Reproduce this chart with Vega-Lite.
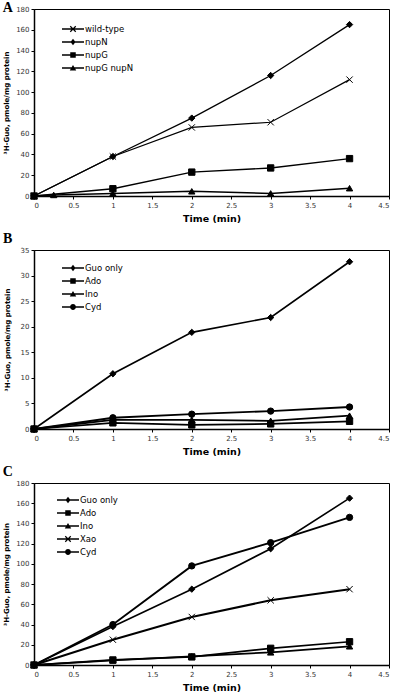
{
  "$schema": "https://vega.github.io/schema/vega-lite/v6.json",
  "background": "white",
  "padding": {"left": 2, "top": 0, "right": 7, "bottom": 0},
  "spacing": 8,
  "config": {
    "view": {"stroke": "black", "strokeWidth": 1},
    "font": "DejaVu Sans",
    "axis": {
      "grid": false,
      "labelFont": "DejaVu Sans",
      "labelFontSize": 7,
      "labelColor": "#333333",
      "labelPadding": 2,
      "tickColor": "black",
      "tickSize": 3,
      "tickWidth": 1,
      "domainColor": "black",
      "domainWidth": 1.5,
      "titleFont": "DejaVu Sans",
      "titleFontWeight": "bold",
      "titleColor": "black"
    },
    "axisX": {"titleFontSize": 9.5, "titlePadding": 5},
    "axisY": {"titleFontSize": 7},
    "legend": {
      "labelFont": "DejaVu Sans",
      "labelFontSize": 8.5,
      "labelColor": "black",
      "labelOffset": 7,
      "padding": 0,
      "rowPadding": 3,
      "symbolSize": 100,
      "symbolStrokeWidth": 0,
      "symbolFillColor": "black",
      "symbolOpacity": 1
    },
    "title": {"font": "Liberation Serif", "fontSize": 14, "fontWeight": "bold", "color": "black", "anchor": "start", "frame": "bounds"}
  },
  "datasets": {
    "A": [
      {"s": "wild-type", "t": 0, "v": 0}, {"s": "wild-type", "t": 1, "v": 38}, {"s": "wild-type", "t": 2, "v": 66}, {"s": "wild-type", "t": 3, "v": 71}, {"s": "wild-type", "t": 4, "v": 112},
      {"s": "nupN", "t": 0, "v": 0}, {"s": "nupN", "t": 1, "v": 38}, {"s": "nupN", "t": 2, "v": 75}, {"s": "nupN", "t": 3, "v": 116}, {"s": "nupN", "t": 4, "v": 165},
      {"s": "nupG", "t": 0, "v": 0}, {"s": "nupG", "t": 1, "v": 7}, {"s": "nupG", "t": 2, "v": 23}, {"s": "nupG", "t": 3, "v": 27}, {"s": "nupG", "t": 4, "v": 36},
      {"s": "nupG nupN", "t": 0, "v": 0}, {"s": "nupG nupN", "t": 0.25, "v": 1}, {"s": "nupG nupN", "t": 1, "v": 2.5}, {"s": "nupG nupN", "t": 2, "v": 4.5}, {"s": "nupG nupN", "t": 3, "v": 2.5}, {"s": "nupG nupN", "t": 4, "v": 7.5}
    ],
    "B": [
      {"s": "Guo only", "t": 0, "v": 0}, {"s": "Guo only", "t": 1, "v": 10.8}, {"s": "Guo only", "t": 2, "v": 18.9}, {"s": "Guo only", "t": 3, "v": 21.8}, {"s": "Guo only", "t": 4, "v": 32.7},
      {"s": "Ado", "t": 0, "v": 0}, {"s": "Ado", "t": 1, "v": 1.2}, {"s": "Ado", "t": 2, "v": 0.8}, {"s": "Ado", "t": 3, "v": 1.0}, {"s": "Ado", "t": 4, "v": 1.5},
      {"s": "Ino", "t": 0, "v": 0}, {"s": "Ino", "t": 1, "v": 1.8}, {"s": "Ino", "t": 2, "v": 1.8}, {"s": "Ino", "t": 3, "v": 1.6}, {"s": "Ino", "t": 4, "v": 2.6},
      {"s": "Cyd", "t": 0, "v": 0}, {"s": "Cyd", "t": 1, "v": 2.2}, {"s": "Cyd", "t": 2, "v": 2.9}, {"s": "Cyd", "t": 3, "v": 3.5}, {"s": "Cyd", "t": 4, "v": 4.3}
    ],
    "C": [
      {"s": "Guo only", "t": 0, "v": 0}, {"s": "Guo only", "t": 1, "v": 38}, {"s": "Guo only", "t": 2, "v": 75}, {"s": "Guo only", "t": 3, "v": 115}, {"s": "Guo only", "t": 4, "v": 165},
      {"s": "Ado", "t": 0, "v": 0}, {"s": "Ado", "t": 1, "v": 5}, {"s": "Ado", "t": 2, "v": 8}, {"s": "Ado", "t": 3, "v": 16.5}, {"s": "Ado", "t": 4, "v": 23},
      {"s": "Ino", "t": 0, "v": 0}, {"s": "Ino", "t": 1, "v": 4.5}, {"s": "Ino", "t": 2, "v": 8.5}, {"s": "Ino", "t": 3, "v": 12.5}, {"s": "Ino", "t": 4, "v": 18.5},
      {"s": "Xao", "t": 0, "v": 0}, {"s": "Xao", "t": 1, "v": 25}, {"s": "Xao", "t": 2, "v": 47.5}, {"s": "Xao", "t": 3, "v": 64}, {"s": "Xao", "t": 4, "v": 75},
      {"s": "Cyd", "t": 0, "v": 0}, {"s": "Cyd", "t": 1, "v": 40}, {"s": "Cyd", "t": 2, "v": 98}, {"s": "Cyd", "t": 3, "v": 121}, {"s": "Cyd", "t": 4, "v": 146}
    ]
  },
  "vconcat": [
    {
      "width": 355, "height": 187,
      "title": {"text": "A", "offset": -10},
      "data": {"name": "A"},
      "encoding": {
        "x": {"field": "t", "type": "quantitative", "scale": {"domain": [0, 4.5], "nice": false}, "axis": {"title": "Time (min)", "values": [0, 0.5, 1, 1.5, 2, 2.5, 3, 3.5, 4, 4.5], "format": "~g"}},
        "y": {"field": "v", "type": "quantitative", "scale": {"domain": [0, 180], "nice": false}, "axis": {"title": "³H-Guo, pmole/mg protein", "values": [0, 20, 40, 60, 80, 100, 120, 140, 160, 180], "titlePadding": 6}}
      },
      "layer": [
        {"mark": {"type": "line", "color": "black"}, "encoding": {"detail": {"field": "s"}, "strokeWidth": {"field": "s", "type": "ordinal", "scale": {"domain": ["wild-type", "nupN", "nupG", "nupG nupN"], "range": [1.2, 2, 2, 2]}, "legend": null}}},
        {"mark": {"type": "point", "filled": true, "color": "black", "stroke": "black", "strokeWidth": 1, "size": 40, "opacity": 1}, "encoding": {"shape": {"field": "s", "type": "nominal", "scale": {"domain": ["wild-type", "nupN", "nupG", "nupG nupN"], "range": ["M-1,-1L1,1M-1,1L1,-1", "diamond", "square", "triangle-up"]}, "legend": null}}},
        {"mark": {"type": "point", "filled": true, "color": "black", "size": 0}, "encoding": {"shape": {"field": "s", "type": "nominal", "scale": {"domain": ["wild-type", "nupN", "nupG", "nupG nupN"], "range": ["M-2.2,-0.15H2.2V0.15H-2.2ZM-0.465,-0.635L0.635,0.465L0.465,0.635L-0.635,-0.465ZM-0.635,0.465L0.465,-0.635L0.635,-0.465L-0.465,0.635Z", "M-2.2,-0.15H2.2V0.15H-2.2ZM0,-0.65L0.5,0L0,0.65L-0.5,0Z", "M-2.2,-0.15H2.2V0.15H-2.2ZM-0.55,-0.55H0.55V0.55H-0.55Z", "M-2.2,-0.15H2.2V0.15H-2.2ZM0,-0.6L0.65,0.5L-0.65,0.5Z"]}, "legend": {"title": null, "orient": "none", "legendX": 34, "legendY": 15, "encode": {"symbols": {"fill": {"value": "black"}, "opacity": {"value": 1}}}}}}}
      ],
      "resolve": {"scale": {"shape": "independent"}}
    },
    {
      "width": 355, "height": 179,
      "title": {"text": "B", "offset": 0},
      "data": {"name": "B"},
      "encoding": {
        "x": {"field": "t", "type": "quantitative", "scale": {"domain": [0, 4.5], "nice": false}, "axis": {"title": "Time (min)", "values": [0, 0.5, 1, 1.5, 2, 2.5, 3, 3.5, 4, 4.5], "format": "~g"}},
        "y": {"field": "v", "type": "quantitative", "scale": {"domain": [0, 35], "nice": false}, "axis": {"title": "³H-Guo, pmole/mg protein", "values": [0, 5, 10, 15, 20, 25, 30, 35], "titlePadding": 10}}
      },
      "layer": [
        {"mark": {"type": "line", "color": "black"}, "encoding": {"detail": {"field": "s"}, "strokeWidth": {"field": "s", "type": "ordinal", "scale": {"domain": ["Guo only", "Ado", "Ino", "Cyd"], "range": [2, 1.8, 1.8, 1.8]}, "legend": null}}},
        {"mark": {"type": "point", "filled": true, "color": "black", "stroke": "black", "strokeWidth": 1, "size": 40, "opacity": 1}, "encoding": {"shape": {"field": "s", "type": "nominal", "scale": {"domain": ["Guo only", "Ado", "Ino", "Cyd"], "range": ["diamond", "square", "triangle-up", "circle"]}, "legend": null}}},
        {"mark": {"type": "point", "filled": true, "color": "black", "size": 0}, "encoding": {"shape": {"field": "s", "type": "nominal", "scale": {"domain": ["Guo only", "Ado", "Ino", "Cyd"], "range": ["M-2.2,-0.15H2.2V0.15H-2.2ZM0,-0.65L0.5,0L0,0.65L-0.5,0Z", "M-2.2,-0.15H2.2V0.15H-2.2ZM-0.55,-0.55H0.55V0.55H-0.55Z", "M-2.2,-0.15H2.2V0.15H-2.2ZM0,-0.6L0.65,0.5L-0.65,0.5Z", "M-2.2,-0.15H2.2V0.15H-2.2ZM0.58,0A0.58,0.58,0,1,1,-0.58,0A0.58,0.58,0,1,1,0.58,0Z"]}, "legend": {"title": null, "orient": "none", "legendX": 34, "legendY": 13, "encode": {"symbols": {"fill": {"value": "black"}, "opacity": {"value": 1}}}}}}}
      ],
      "resolve": {"scale": {"shape": "independent"}}
    },
    {
      "width": 355, "height": 182,
      "title": {"text": "C", "offset": 0},
      "data": {"name": "C"},
      "encoding": {
        "x": {"field": "t", "type": "quantitative", "scale": {"domain": [0, 4.5], "nice": false}, "axis": {"title": "Time (min)", "values": [0, 0.5, 1, 1.5, 2, 2.5, 3, 3.5, 4, 4.5], "format": "~g"}},
        "y": {"field": "v", "type": "quantitative", "scale": {"domain": [0, 180], "nice": false}, "axis": {"title": "³H-Guo, pmole/mg protein", "values": [0, 20, 40, 60, 80, 100, 120, 140, 160, 180], "titlePadding": 6}}
      },
      "layer": [
        {"mark": {"type": "line", "color": "black"}, "encoding": {"detail": {"field": "s"}, "strokeWidth": {"field": "s", "type": "ordinal", "scale": {"domain": ["Guo only", "Ado", "Ino", "Xao", "Cyd"], "range": [2, 2, 2, 1.2, 2]}, "legend": null}}},
        {"mark": {"type": "point", "filled": true, "color": "black", "stroke": "black", "strokeWidth": 1, "size": 40, "opacity": 1}, "encoding": {"shape": {"field": "s", "type": "nominal", "scale": {"domain": ["Guo only", "Ado", "Ino", "Xao", "Cyd"], "range": ["diamond", "square", "triangle-up", "M-1,-1L1,1M-1,1L1,-1", "circle"]}, "legend": null}}},
        {"mark": {"type": "point", "filled": true, "color": "black", "size": 0}, "encoding": {"shape": {"field": "s", "type": "nominal", "scale": {"domain": ["Guo only", "Ado", "Ino", "Xao", "Cyd"], "range": ["M-2.2,-0.15H2.2V0.15H-2.2ZM0,-0.65L0.5,0L0,0.65L-0.5,0Z", "M-2.2,-0.15H2.2V0.15H-2.2ZM-0.55,-0.55H0.55V0.55H-0.55Z", "M-2.2,-0.15H2.2V0.15H-2.2ZM0,-0.6L0.65,0.5L-0.65,0.5Z", "M-2.2,-0.15H2.2V0.15H-2.2ZM-0.465,-0.635L0.635,0.465L0.465,0.635L-0.635,-0.465ZM-0.635,0.465L0.465,-0.635L0.635,-0.465L-0.465,0.635Z", "M-2.2,-0.15H2.2V0.15H-2.2ZM0.58,0A0.58,0.58,0,1,1,-0.58,0A0.58,0.58,0,1,1,0.58,0Z"]}, "legend": {"title": null, "orient": "none", "legendX": 29, "legendY": 12, "encode": {"symbols": {"fill": {"value": "black"}, "opacity": {"value": 1}}}}}}}
      ],
      "resolve": {"scale": {"shape": "independent"}}
    }
  ]
}
